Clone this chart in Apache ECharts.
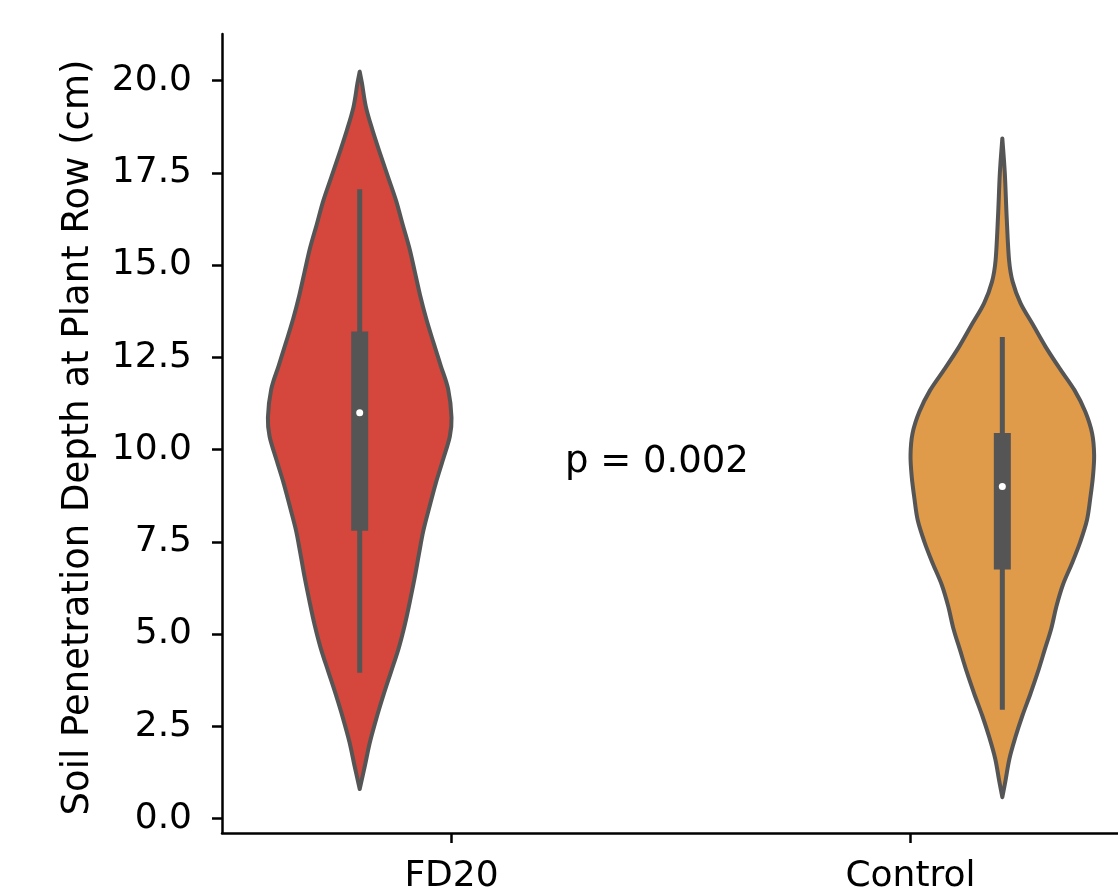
<!DOCTYPE html>
<html>
<head>
<meta charset="utf-8">
<script src="https://cdn.jsdelivr.net/npm/echarts@6/dist/echarts.min.js"></script>
<style>
  html, body { margin: 0; padding: 0; background: #fff; }
  #main { width: 1118px; height: 888px; }
</style>
</head>
<body>
<div id="main"></div>
<script>
var categories = ['FD20', 'Control'];
var fillColors = ['#d5473c', '#e09b4a'];
var hueOffsets = [-0.2, 0.2];

// density outline (relative width)
var fd20Y = [0.8, 1.44, 2.07, 2.71, 3.35, 3.99, 4.62, 5.26, 5.9, 6.54, 7.18, 7.81, 8.45, 9.09, 9.73, 10.36, 10.87,
    11.63, 12.27, 12.91, 13.55, 14.19, 14.82, 15.46, 16.1, 16.74, 17.37, 18.0, 18.65, 19.28, 19.92, 20.24];
var fd20Density = [0, 0.057, 0.111, 0.181, 0.259, 0.343, 0.425, 0.492, 0.548, 0.6, 0.646, 0.694, 0.76, 0.829, 0.908, 0.982, 1.0,
    0.964, 0.883, 0.802, 0.724, 0.657, 0.6, 0.541, 0.468, 0.397, 0.311, 0.225, 0.14, 0.068, 0.025, 0];
var controlY = [0.58, 1.05, 1.63, 2.22, 2.8, 3.39, 3.98, 4.57, 5.16, 5.74, 6.33, 6.92, 7.5, 8.09, 8.68, 9.27, 9.85,
    10.44, 11.03, 11.61, 12.2, 12.79, 13.38, 13.97, 14.55, 15.14, 16.31, 17.49, 18.43];
var controlDensity = [0, 0.036, 0.078, 0.144, 0.22, 0.307, 0.388, 0.461, 0.534, 0.588, 0.659, 0.759, 0.849, 0.922, 0.958, 0.987, 1.0,
    0.978, 0.903, 0.786, 0.624, 0.47, 0.334, 0.198, 0.112, 0.073, 0.047, 0.027, 0];

// box stats
var q1 = [7.8, 6.75];
var q3 = [13.2, 10.45];
var whiskerLow = [3.95, 2.95];
var whiskerHigh = [17.05, 13.05];
var medians = [11.0, 9.0];

var yTicks = [0, 2.5, 5, 7.5, 10, 12.5, 15, 17.5, 20];
var xTicks = [0, 1];

var pText = 'p = 0.002';
var pAt = [0.247, 9.64];

var outlines = [[fd20Y, fd20Density], [controlY, controlDensity]];
var gray = '#555555';
var halfWidth = 0.2;
var font = 'DejaVu Sans';

// catmull-rom through the outline points, drawn as bezier segments
function curveTo(pts) {
    var d = '';
    for (var i = 0; i < pts.length - 1; i++) {
        var p0 = pts[i - 1] || pts[i], p1 = pts[i], p2 = pts[i + 1], p3 = pts[i + 2] || pts[i + 1];
        var c1x = p1[0] + (p2[0] - p0[0]) / 6, c1y = p1[1] + (p2[1] - p0[1]) / 6;
        var c2x = p2[0] - (p3[0] - p1[0]) / 6, c2y = p2[1] - (p3[1] - p1[1]) / 6;
        d += ' C' + c1x + ',' + c1y + ' ' + c2x + ',' + c2y + ' ' + p2[0] + ',' + p2[1];
    }
    return d;
}

function violinSeries(i) {
    var ys = outlines[i][0], dens = outlines[i][1];
    var xc = i + hueOffsets[i];
    return {
        type: 'custom',
        silent: true,
        renderItem: function (params, api) {
            var right = [], left = [];
            for (var k = 0; k < ys.length; k++) {
                right.push(api.coord([xc + halfWidth * dens[k], ys[k]]));
                left.push(api.coord([xc - halfWidth * dens[k], ys[k]]));
            }
            left.reverse();
            var d = 'M' + right[0][0] + ',' + right[0][1] + curveTo(right) +
                ' L' + left[0][0] + ',' + left[0][1] + curveTo(left) + ' Z';
            var wTop = api.coord([xc, whiskerHigh[i]]);
            var wBot = api.coord([xc, whiskerLow[i]]);
            var bTop = api.coord([xc, q3[i]]);
            var bBot = api.coord([xc, q1[i]]);
            var med = api.coord([xc, medians[i]]);
            return {
                type: 'group',
                children: [
                    {type: 'path', shape: {pathData: d},
                     style: {fill: fillColors[i], stroke: gray, lineWidth: 4, lineJoin: 'round'}},
                    {type: 'line', shape: {x1: wTop[0], y1: wTop[1], x2: wBot[0], y2: wBot[1]},
                     style: {stroke: gray, lineWidth: 5}},
                    {type: 'rect', shape: {x: bTop[0] - 8.5, y: bTop[1], width: 17, height: bBot[1] - bTop[1]},
                     style: {fill: gray}},
                    {type: 'circle', shape: {cx: med[0], cy: med[1], r: 3.5},
                     style: {fill: '#ffffff'}}
                ]
            };
        },
        data: [[xc, medians[i]]]
    };
}

var myChart = echarts.init(document.getElementById('main'));
var option = {
    animation: false,
    grid: {left: 222, top: 34, right: 0, bottom: 55, containLabel: false, outerBoundsMode: 'none'},
    xAxis: {
        type: 'value',
        min: -0.5,
        max: 1.452,
        splitLine: {show: false},
        axisLine: {show: true, onZero: false, lineStyle: {color: '#000', width: 2.5}},
        axisTick: {show: true, length: 10, lineStyle: {color: '#000', width: 2.5}, customValues: xTicks},
        axisLabel: {
            customValues: xTicks,
            formatter: function (v) { return categories[Math.round(v)]; },
            color: '#000', fontFamily: font, fontSize: 36, margin: 26
        }
    },
    yAxis: {
        type: 'value',
        min: -0.39,
        max: 21.26,
        name: 'Soil Penetration Depth at Plant Row (cm)',
        nameLocation: 'middle',
        nameGap: 125,
        nameTextStyle: {color: '#000', fontFamily: font, fontSize: 37, padding: [0, 8, 0, 0]},
        splitLine: {show: false},
        axisLine: {show: true, onZero: false, lineStyle: {color: '#000', width: 2.5}},
        axisTick: {show: true, length: 10, lineStyle: {color: '#000', width: 2.5}, customValues: yTicks},
        axisLabel: {
            customValues: yTicks,
            formatter: function (v) { return v.toFixed(1); },
            color: '#000', fontFamily: font, fontSize: 36, margin: 30
        }
    },
    series: [
        violinSeries(0),
        violinSeries(1),
        {
            type: 'custom',
            silent: true,
            renderItem: function (params, api) {
                var p = api.coord([api.value(0), api.value(1)]);
                return {
                    type: 'text',
                    x: p[0],
                    y: p[1],
                    style: {
                        text: pText, fill: '#000', font: '37px "DejaVu Sans"',
                        align: 'left', verticalAlign: 'middle'
                    }
                };
            },
            data: [pAt]
        }
    ]
};
myChart.setOption(option);
</script>
</body>
</html>
